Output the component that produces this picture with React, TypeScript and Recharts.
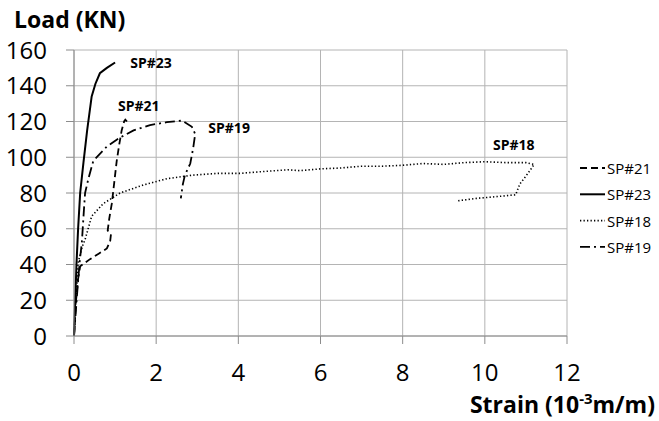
import React from "react";
import {
  LineChart,
  Line,
  XAxis,
  YAxis,
  CartesianGrid,
  Legend,
  ReferenceDot,
} from "recharts";

// strain (10^-3 m/m) and load (KN), in drawing order
const sp21 = [
  { x: 0, y: 0 }, { x: 0.05, y: 20 }, { x: 0.1, y: 32 }, { x: 0.15, y: 39 },
  { x: 0.39, y: 43 }, { x: 0.6, y: 46 }, { x: 0.8, y: 49 }, { x: 0.88, y: 53 },
  { x: 0.9, y: 57 }, { x: 0.82, y: 59 }, { x: 0.86, y: 66 }, { x: 0.92, y: 74 },
  { x: 0.98, y: 86 }, { x: 1.04, y: 98 }, { x: 1.1, y: 107 }, { x: 1.16, y: 115 },
  { x: 1.22, y: 120 }, { x: 1.25, y: 121 }, { x: 1.29, y: 120 },
];

const sp23 = [
  { x: 0, y: 0 }, { x: 0.03, y: 20 }, { x: 0.06, y: 40 }, { x: 0.1, y: 60 },
  { x: 0.15, y: 80 }, { x: 0.23, y: 97 }, { x: 0.32, y: 115 }, { x: 0.43, y: 134 },
  { x: 0.52, y: 141 }, { x: 0.63, y: 147 }, { x: 0.8, y: 150 }, { x: 1.0, y: 153 },
];

const sp18 = [
  { x: 0, y: 0 }, { x: 0.05, y: 20 }, { x: 0.1, y: 41 }, { x: 0.2, y: 50 },
  { x: 0.27, y: 54 }, { x: 0.43, y: 67 }, { x: 0.71, y: 74 }, { x: 1.12, y: 80 },
  { x: 1.69, y: 84.5 }, { x: 2.26, y: 88 }, { x: 2.9, y: 90 }, { x: 3.5, y: 91 },
  { x: 4.05, y: 91 }, { x: 4.6, y: 92 }, { x: 5.2, y: 93 }, { x: 5.5, y: 92.5 },
  { x: 6, y: 93.5 }, { x: 6.5, y: 94 }, { x: 7, y: 95 }, { x: 7.5, y: 95 },
  { x: 8, y: 95.5 }, { x: 8.5, y: 96.5 }, { x: 9, y: 96 }, { x: 9.5, y: 97 },
  { x: 10, y: 97.5 }, { x: 10.5, y: 97 }, { x: 11, y: 97 }, { x: 11.2, y: 96 },
  { x: 11.05, y: 91 }, { x: 10.85, y: 85 }, { x: 10.75, y: 79 }, { x: 10.3, y: 78 },
  { x: 9.8, y: 77 }, { x: 9.3, y: 75.5 },
];

const sp19 = [
  { x: 0, y: 0 }, { x: 0.08, y: 25 }, { x: 0.14, y: 42 }, { x: 0.19, y: 52 },
  { x: 0.24, y: 70 }, { x: 0.27, y: 80 }, { x: 0.35, y: 88 }, { x: 0.47, y: 98 },
  { x: 0.8, y: 106 }, { x: 1.12, y: 111 }, { x: 1.45, y: 115 }, { x: 1.85, y: 118 },
  { x: 2.26, y: 119.6 }, { x: 2.63, y: 120.5 }, { x: 2.87, y: 117 }, { x: 2.95, y: 113 },
  { x: 2.9, y: 105 }, { x: 2.83, y: 96.5 }, { x: 2.7, y: 90 }, { x: 2.65, y: 85 },
  { x: 2.6, y: 77 },
];

const xTicks = [0, 2, 4, 6, 8, 10, 12];
const yTicks = [0, 20, 40, 60, 80, 100, 120, 140, 160];

const series = [
  { name: "SP#21", data: sp21, dash: "7 4", width: 1.8 },
  { name: "SP#23", data: sp23, dash: undefined, width: 2 },
  { name: "SP#18", data: sp18, dash: "1.3 2.2", width: 1.6 },
  { name: "SP#19", data: sp19, dash: "10 4 2 4", width: 1.8 },
];

// where each curve's name is written (data coords, left edge / middle)
const curveLabels = [
  { text: "SP#23", x: 1.37, y: 153 },
  { text: "SP#21", x: 1.07, y: 128.7 },
  { text: "SP#19", x: 3.27, y: 116.6 },
  { text: "SP#18", x: 10.2, y: 107.4 },
];

const FONT = "'Open Sans', sans-serif";

const LegendBox = () => (
  <svg width={80} height={112} style={{ display: "block" }}>
    {series.map((s, i) => {
      const cy = 13 + i * 26.3;
      return (
        <g key={s.name}>
          <line
            x1={2}
            x2={27}
            y1={cy}
            y2={cy}
            stroke="#000"
            strokeWidth={s.width}
            strokeDasharray={s.dash}
          />
          <text
            x={29}
            y={cy}
            dominantBaseline="central"
            fontFamily={FONT}
            fontSize={15}
            fill="#000"
          >
            {s.name}
          </text>
        </g>
      );
    })}
  </svg>
);

export default function App() {
  return (
    <div style={{ position: "absolute", left: 0, top: 0 }}>
      <LineChart
        width={659}
        height={421}
        margin={{ top: 50, right: 92, bottom: 45, left: 0 }}
      >
        <CartesianGrid stroke="#b4b4b4" strokeWidth={1} />
        <XAxis
          type="number"
          dataKey="x"
          domain={[0, 12]}
          ticks={xTicks}
          height={40}
          stroke="#8c8c8c"
          tickSize={8}
          tickMargin={20}
          tick={{ fill: "#000", fontSize: 24, fontFamily: FONT }}
          label={{
            content: () => (
              <text
                x={655}
                y={413}
                textAnchor="end"
                fontFamily={FONT}
                fontWeight="bold"
                fontSize={23}
                fill="#000"
              >
                <tspan>Strain (10</tspan>
                <tspan dy={-9} fontSize={15}>-3</tspan>
                <tspan dy={9}>m/m)</tspan>
              </text>
            ),
          }}
        />
        <YAxis
          type="number"
          dataKey="y"
          domain={[0, 160]}
          ticks={yTicks}
          width={74}
          stroke="#8c8c8c"
          tickSize={8}
          tickMargin={19}
          tick={{ fill: "#000", fontSize: 24, fontFamily: FONT }}
          label={{
            content: () => (
              <text
                x={14}
                y={28}
                fontFamily={FONT}
                fontWeight="bold"
                fontSize={23}
                fill="#000"
              >
                Load (KN)
              </text>
            ),
          }}
        />
        {series.map((s) => (
          <Line
            key={s.name}
            name={s.name}
            data={s.data}
            dataKey="y"
            type="linear"
            stroke="#000"
            strokeWidth={s.width}
            strokeDasharray={s.dash}
            dot={false}
            activeDot={false}
            isAnimationActive={false}
          />
        ))}
        {curveLabels.map((l) => (
          <ReferenceDot
            key={l.text}
            x={l.x}
            y={l.y}
            r={1}
            fill="none"
            stroke="none"
            label={{
              content: (props: any) => (
                <text
                  x={props.viewBox.x + 1}
                  y={props.viewBox.y + 1}
                  dominantBaseline="central"
                  fontFamily={FONT}
                  fontWeight="bold"
                  fontSize={14}
                  fill="#000"
                >
                  {l.text}
                </text>
              ),
            }}
          />
        ))}
        <Legend
          layout="vertical"
          align="center"
          verticalAlign="middle"
          content={() => <LegendBox />}
          wrapperStyle={{ left: 578, top: 155, width: 80, height: 112 }}
        />
      </LineChart>
    </div>
  );
}
